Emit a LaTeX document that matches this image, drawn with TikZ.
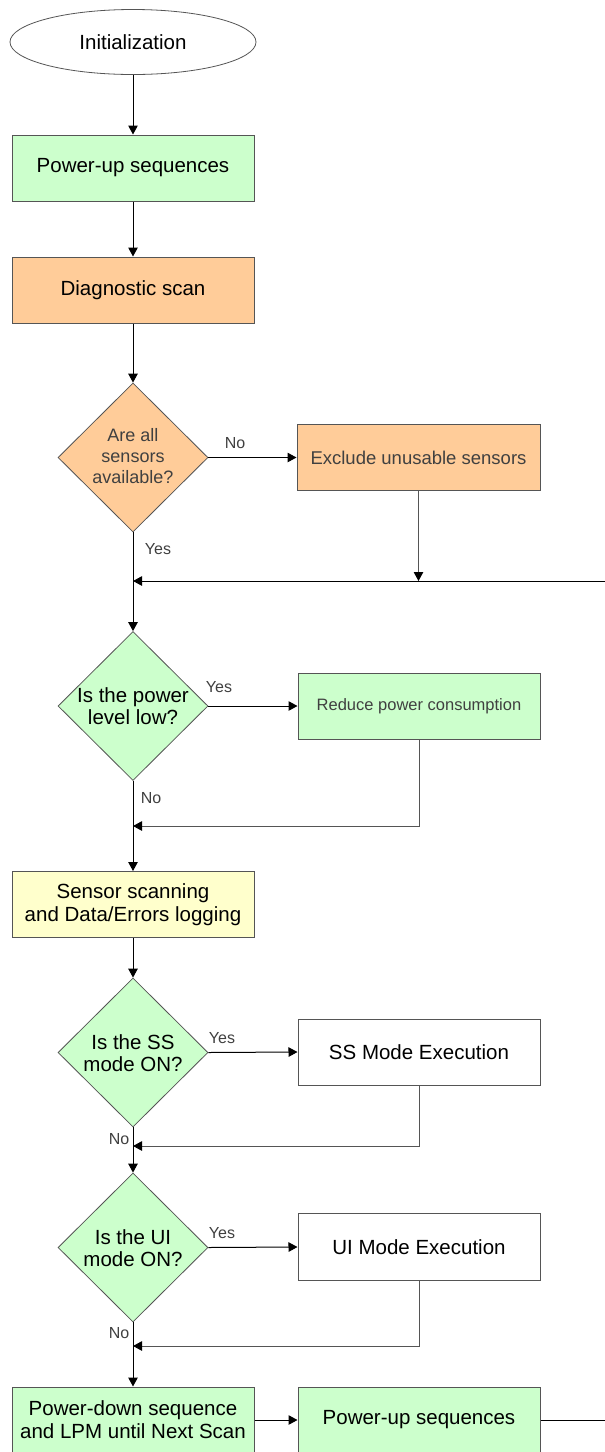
\documentclass[tikz,border=0pt]{standalone}
\usepackage{fontspec}
\setmainfont{Liberation Sans}
\usetikzlibrary{shapes.geometric,arrows.meta}
\definecolor{gfill}{HTML}{CCFFCC}
\definecolor{ofill}{HTML}{FFCC99}
\definecolor{yfill}{HTML}{FFFFCC}
\definecolor{bordc}{HTML}{555555}
\definecolor{labc}{HTML}{404040}
\begin{document}
\begin{tikzpicture}[x=1pt,y=-1pt,
  box/.style={draw=bordc, line width=1pt, minimum width=242pt, minimum height=66pt,
    inner sep=0pt, align=center, font=\fontsize{20.5}{23}\selectfont},
  dia/.style={diamond, draw=bordc, line width=0.8pt, minimum width=150pt,
    minimum height=149pt, inner sep=0pt},
  dtext/.style={align=center, inner sep=0pt, font=\fontsize{20.5}{22}\selectfont},
  conn/.style={line width=1pt, draw=black, -{Triangle[length=9pt,width=9.5pt,color=black]}},
  plain/.style={line width=1pt, draw=black},
  lab/.style={font=\fontsize{16}{18}\selectfont, text=labc, inner sep=0pt}]
\clip (0,0) rectangle (605,1452);
\fill[white] (0,0) rectangle (605,1452);

% nodes
\node[ellipse, draw=bordc, line width=0.8pt, minimum width=246pt, minimum height=65pt,
  inner sep=0pt, font=\fontsize{20.5}{23}\selectfont] (init) at (133,42) {Initialization};
\node[box, fill=gfill] (pu1) at (133,168) {Power-up sequences};
\node[box, fill=ofill] (diag) at (133,290) {Diagnostic scan};

\node[dia, fill=ofill] (d1) at (133,457.5) {};
\node[dtext, text=labc, font=\fontsize{18}{21}\selectfont] (d1t) at (133,456) {Are all\\sensors\\available?};
\node[box, fill=ofill, minimum width=243pt, text=labc, font=\fontsize{18.5}{22}\selectfont] (ex) at (418.5,457.5) {Exclude unusable sensors};

\node[dia, fill=gfill] (d2) at (133,706) {};
\node[dtext] (d2t) at (133,706) {Is the power\\level low?};
\node[box, fill=gfill, font=\fontsize{16.5}{20}\selectfont, text=labc] (rp) at (419,706) {Reduce power consumption};

\node[box, fill=yfill] (sens) at (133,904.5) {Sensor scanning\\and Data/Errors logging};

\node[dia, fill=gfill] (d3) at (133,1052.5) {};
\node[dtext] (d3t) at (133,1053) {Is the SS\\mode ON?};
\node[box, fill=white] (ss) at (419,1052) {SS Mode Execution};

\node[dia, fill=gfill] (d4) at (133,1247.5) {};
\node[dtext] (d4t) at (133,1248) {Is the UI\\mode ON?};
\node[box, fill=white, minimum height=67pt] (ui) at (419,1247) {UI Mode Execution};

\node[box, fill=gfill] (pd) at (133,1420) {Power-down sequence\\and LPM until Next Scan};
\node[box, fill=gfill] (pu2) at (419,1420) {Power-up sequences};

% junction coordinates
\coordinate (j1) at (133,581);
\coordinate (r1) at (606,581);
\coordinate (j2) at (133,826);
\coordinate (j3) at (133,1146);
\coordinate (j4) at (133,1346);
\coordinate (r2) at (606,1420);

% main flow
\draw[conn] (init) -- (pu1);
\draw[conn] (pu1) -- (diag);
\draw[conn] (diag) -- (d1.north);
\draw[conn] (d1.south) -- (d2.north);
\draw[conn] (d2.south) -- (sens.north);
\draw[conn] (sens.south) -- (d3.north);
\draw[conn] (d3.south) -- (d4.north);
\draw[conn] (d4.south) -- (pd.north);

% branches
\draw[conn] (d1.east) -- (ex.west);
\draw[conn, draw=bordc] (ex.south) -- (ex.south |- j1);
\draw[conn] (r1) -- (j1);

\draw[conn] (d2.east) -- (rp.west);
\draw[conn, draw=bordc] (rp.south) |- (j2);

\draw[conn] (d3.east) -- (ss.west);
\draw[conn, draw=bordc] (ss.south) |- (j3);

\draw[conn] (d4.east) -- (ui.west);
\draw[conn, draw=bordc] (ui.south) |- (j4);

\draw[conn] (pd.east) -- (pu2.west);
\draw[plain] (pu2.east) -- (r2);

% labels
\node[lab] (l1) at (235,443) {No};
\node[lab] (l2) at (158,549) {Yes};
\node[lab] (l3) at (219,687) {Yes};
\node[lab] (l4) at (151,798) {No};
\node[lab] (l5) at (222,1038) {Yes};
\node[lab] (l6) at (119,1139) {No};
\node[lab] (l7) at (222,1233) {Yes};
\node[lab] (l8) at (119,1333) {No};
\end{tikzpicture}
\end{document}
